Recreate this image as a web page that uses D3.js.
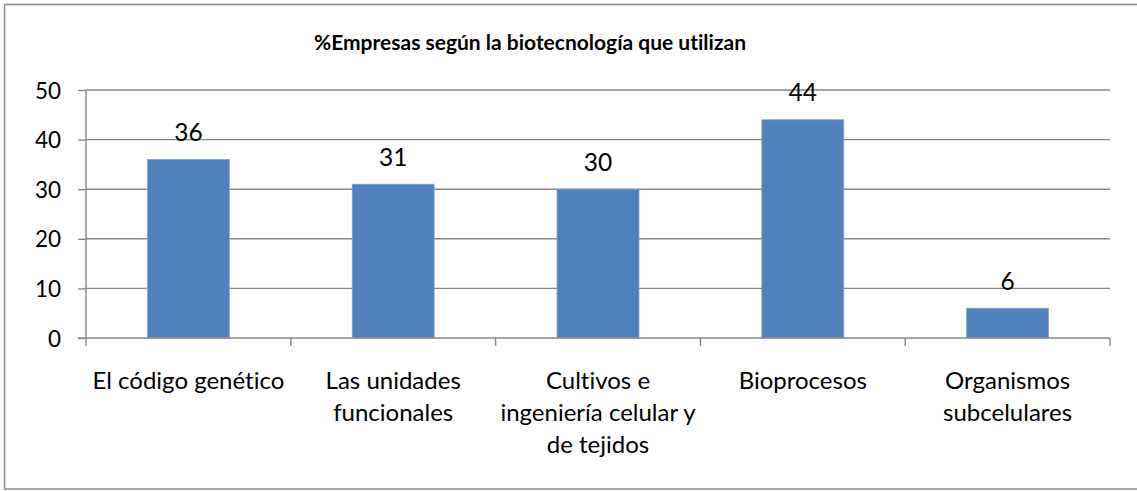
<!DOCTYPE html>
<html><head><meta charset="utf-8">
<script src="https://cdn.jsdelivr.net/npm/d3@7"></script>
<style>html,body{margin:0;padding:0;background:#fff;}svg{display:block;}text{font-variant-ligatures:none;font-feature-settings:"liga" 0,"dlig" 0;}</style>
</head><body>
<svg id="c" width="1137" height="491"></svg>
<script>
const title = "%Empresas según la biotecnología que utilizan";
const categories = ["El código genético", "Las unidades funcionales", "Cultivos e ingeniería celular y de tejidos", "Bioprocesos", "Organismos subcelulares"];
const categoryLines = [["El código genético"], ["Las unidades", "funcionales"], ["Cultivos e", "ingeniería celular y", "de tejidos"], ["Bioprocesos"], ["Organismos", "subcelulares"]];
const values = [36, 31, 30, 44, 6];
const yTicks = [0, 10, 20, 30, 40, 50];

const FONT = "Lato, 'Open Sans', sans-serif";
const svg = d3.select("#c");
const gridColor = "#878787";

svg.append("rect").attr("x", 4.5).attr("y", 4.5).attr("width", 1140).attr("height", 484.5)
  .attr("fill", "#fff").attr("stroke", "#8a8a8a").attr("stroke-width", 1.5);

const x = d3.scaleBand().domain(categories).range([86, 1110]).paddingInner(0.6).paddingOuter(0.3);
const y = d3.scaleLinear().domain([0, 50]).range([338, 90]);
const step = x.step();

// gridlines
svg.append("g").selectAll("line").data(yTicks.filter(d => d > 0)).join("line")
  .attr("x1", 86).attr("x2", 1110).attr("y1", d => y(d)).attr("y2", d => y(d))
  .attr("stroke", gridColor).attr("stroke-width", 1.4);

// y axis
const yAxis = d3.axisLeft(y).tickValues(yTicks).tickSize(8).tickPadding(17);
const gy = svg.append("g").attr("transform", "translate(86,0)").call(yAxis);
gy.select(".domain").attr("stroke", gridColor).attr("stroke-width", 1.4).attr("d", `M0,${y(50)}V${y(0)}`);
gy.selectAll(".tick line").attr("stroke", gridColor).attr("stroke-width", 1.4);
gy.selectAll(".tick text").attr("font-family", FONT).attr("font-size", 22.5).attr("fill", "#000").attr("dy", "0.36em");

// bars
svg.append("g").selectAll("rect").data(values).join("rect")
  .attr("x", (d, i) => x(categories[i])).attr("width", x.bandwidth())
  .attr("y", d => y(d)).attr("height", d => y(0) - y(d))
  .attr("fill", "#4f81bd").attr("stroke", "#7fa3d0").attr("stroke-width", 0.8);

// x axis
svg.append("line").attr("x1", 78).attr("x2", 1110).attr("y1", y(0)).attr("y2", y(0))
  .attr("stroke", gridColor).attr("stroke-width", 1.4);
svg.append("g").selectAll("line").data(d3.range(categories.length + 1)).join("line")
  .attr("x1", i => x.range()[0] + i * step).attr("x2", i => x.range()[0] + i * step)
  .attr("y1", y(0)).attr("y2", y(0) + 8).attr("stroke", gridColor).attr("stroke-width", 1.4);

// category labels
const cl = svg.append("g").selectAll("text").data(categories).join("text")
  .attr("font-family", FONT).attr("font-size", 24).attr("fill", "#000").attr("text-anchor", "middle")
  .attr("transform", d => `translate(${x(d) + x.bandwidth() / 2},389)`);
cl.each(function (d, i) {
  d3.select(this).selectAll("tspan").data(categoryLines[i]).join("tspan")
    .attr("x", 0).attr("y", (t, j) => j * 32).text(t => t);
});

// data labels
svg.append("g").selectAll("text").data(values).join("text")
  .attr("x", (d, i) => x(categories[i]) + x.bandwidth() / 2).attr("y", d => y(d) - 18.5)
  .attr("text-anchor", "middle").attr("font-family", FONT).attr("font-size", 24.5).attr("fill", "#000")
  .text(d => d);

// title
svg.append("text").attr("x", 530).attr("y", 50).attr("text-anchor", "middle")
  .attr("font-family", FONT).attr("font-weight", "bold").attr("font-size", 21).attr("fill", "#000")
  .text(title);
</script>
</body></html>
